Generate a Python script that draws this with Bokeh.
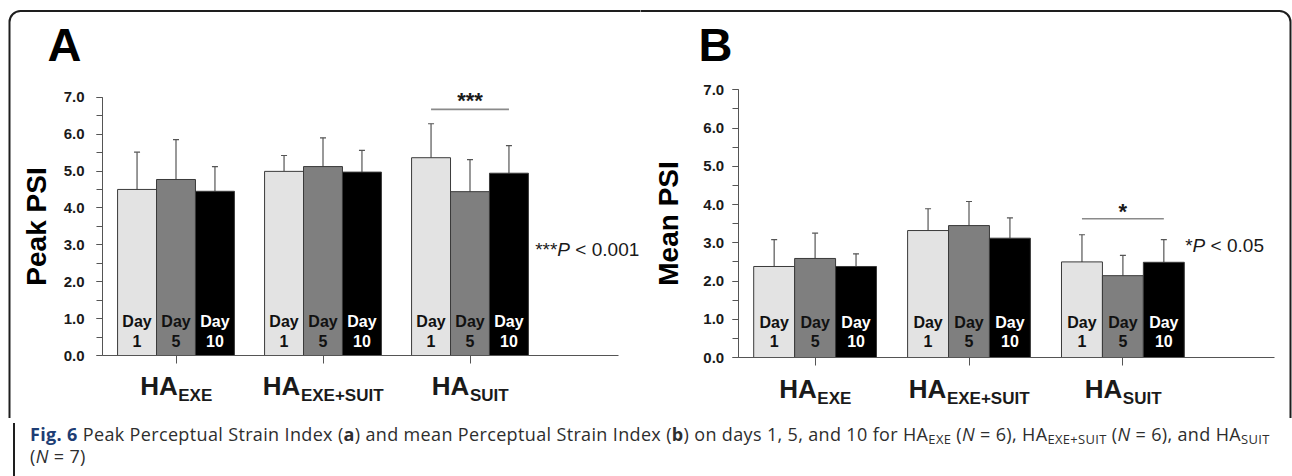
from bokeh.plotting import figure
from bokeh.models import (ColumnDataSource, Whisker, TeeHead, Label, SingleIntervalTicker,
                          FixedTicker, NumeralTickFormatter, Range1d, Div, BoxAnnotation)
from bokeh.layouts import row, column
from bokeh.core.properties import value
from bokeh.embed import file_html
from bokeh.resources import INLINE

# ---------------- data ----------------
groups = ["EXE", "EXE+SUIT", "SUIT"]
day_numbers = ["1", "5", "10"]
bar_colors = ["#e3e3e3", "#7f7f7f", "#000000"]
day_text_colors = ["#111111", "#111111", "#ffffff"]

peak_day1 = [4.50, 4.99, 5.36]
peak_day5 = [4.77, 5.12, 4.44]
peak_day10 = [4.45, 4.97, 4.94]
peak_sd_day1 = [1.01, 0.43, 0.92]
peak_sd_day5 = [1.08, 0.78, 0.87]
peak_sd_day10 = [0.67, 0.59, 0.75]

mean_day1 = [2.38, 3.32, 2.50]
mean_day5 = [2.59, 3.45, 2.14]
mean_day10 = [2.38, 3.12, 2.49]
mean_sd_day1 = [0.70, 0.57, 0.71]
mean_sd_day5 = [0.66, 0.63, 0.53]
mean_sd_day10 = [0.33, 0.53, 0.59]

FONT = "Liberation Sans"
AX = "#555555"
TXT = "#1a1a1a"
SPLIT = 640       # page x where panel B starts
FIG_BOTTOM = 418  # page y where the charts end
PAGE_W = 1292
PAGE_H = 474
FRAME_L, FRAME_R, FRAME_T = 9, 1290, 10.5


def make_panel(means, sds, ylabel, letter, x0, sx, y0, sy, left_px, right_px,
               x_end, bar_w, letter_px, sig_y, star_text, star_px, p_xy, p_star, p_num,
               day_px, num_px, ha_px, sub_px, tick_standoff, label_standoff, border):
    # the frame fills the whole canvas; axes are pinned inside it
    xs_ = (left_px - x0) / sx
    xe_ = (right_px - x0) / sx
    ys_ = (y0 - FIG_BOTTOM) / sy
    ye_ = (y0 - 0) / sy
    p = figure(width=right_px - left_px, height=FIG_BOTTOM, output_backend="svg",
               toolbar_location=None, x_range=Range1d(xs_, xe_), y_range=Range1d(ys_, ye_),
               min_border=0, min_border_left=0, min_border_right=0,
               min_border_top=0, min_border_bottom=0)
    p.outline_line_color = None
    p.grid.visible = False
    p.background_fill_color = "white"
    p.border_fill_color = "white"

    # rounded outer frame (decoration)
    bl, br = border
    p.add_layout(BoxAnnotation(left=(bl - x0) / sx, right=(br - x0) / sx,
                               top=(y0 - FRAME_T) / sy, bottom=ys_ - 5,
                               fill_alpha=0, line_color="#1e1e1e", line_alpha=1.0,
                               line_width=2, border_radius=11))

    offsets = [-bar_w, 0.0, bar_w]
    day_y = day_px / sy
    num_y = num_px / sy
    for i in range(3):
        xs = [g + offsets[i] for g in range(len(groups))]
        ups = [m + s for m, s in zip(means[i], sds[i])]
        src = ColumnDataSource(dict(x=xs, top=means[i], upper=ups,
                                    day=["Day"] * 3, num=[day_numbers[i]] * 3))
        p.add_layout(Whisker(source=src, base="x", upper="upper", lower="top",
                             dimension="height", line_color=AX, line_width=1.2,
                             upper_head=TeeHead(size=6, line_color=AX, line_width=1.2),
                             lower_head=None))
        p.vbar(x="x", top="top", bottom=0, width=bar_w, source=src, fill_color=bar_colors[i],
               line_color="#3a3a3a", line_width=1)
        p.text(x="x", y=day_y, text="day", source=src, text_align="center",
               text_baseline="middle", text_font=value(FONT), text_font_style="bold",
               text_font_size="16px", text_color=day_text_colors[i])
        p.text(x="x", y=num_y, text="num", source=src, text_align="center",
               text_baseline="middle", text_font=value(FONT), text_font_style="bold",
               text_font_size="16px", text_color=day_text_colors[i])

    # significance bracket between day 1 and day 10 of the third group
    p.line(x=[2 + offsets[0], 2 + offsets[2]], y=[sig_y, sig_y], line_color="#8a8a8a", line_width=1.6)
    p.add_layout(Label(x=2, y=(y0 - star_px) / sy, text=star_text, text_align="center",
                       text_baseline="middle", text_font=FONT, text_font_style="bold",
                       text_font_size="22px", text_color=TXT))

    # P-value note
    star_w = 0.389 * 19 * len(p_star)
    py = (y0 - p_xy[1]) / sy
    px = (p_xy[0] - x0) / sx
    p.add_layout(Label(x=px, y=py, text=p_star, text_align="left", text_baseline="middle",
                       text_font=FONT, text_font_size="19px", text_color=TXT))
    p.add_layout(Label(x=px, y=py, x_offset=star_w, text="P", text_align="left",
                       text_baseline="middle", text_font=FONT, text_font_style="italic",
                       text_font_size="19px", text_color=TXT))
    p.add_layout(Label(x=px, y=py, x_offset=star_w + 12.7 + 5.3, text=p_num,
                       text_align="left", text_baseline="middle",
                       text_font=FONT, text_font_size="19px", text_color=TXT))

    # panel letter
    p.add_layout(Label(x=(letter_px[0] - x0) / sx, y=(y0 - letter_px[1]) / sy, text=letter,
                       text_align="left", text_baseline="middle",
                       text_font=FONT, text_font_style="bold", text_font_size="47px",
                       text_color="#000000"))

    # group labels HA + subscript
    sub_w = {"EXE": 34.0, "EXE+SUIT": 82.7, "SUIT": 38.7}
    ha_w = 37.5
    ha_y = -ha_px / sy
    sub_y = -sub_px / sy
    for g, name in enumerate(groups):
        total = ha_w + sub_w[name]
        junction = -total / 2 + ha_w
        p.add_layout(Label(x=g, y=ha_y, x_offset=junction, text="HA", text_align="right",
                           text_baseline="middle",
                           text_font=FONT, text_font_style="bold", text_font_size="26px",
                           text_color=TXT))
        p.add_layout(Label(x=g, y=sub_y, x_offset=junction + 0.5, text=name, text_align="left",
                           text_baseline="middle",
                           text_font=FONT, text_font_style="bold", text_font_size="17px",
                           text_color=TXT))

    # y axis pinned at x = -0.5
    ya = p.yaxis[0]
    ya.fixed_location = -0.5
    ya.bounds = (0, 7)
    ya.ticker = SingleIntervalTicker(interval=1, num_minor_ticks=2)
    ya.formatter = NumeralTickFormatter(format="0.0")
    ya.axis_line_color = AX
    ya.major_tick_line_color = AX
    ya.minor_tick_line_color = AX
    ya.major_tick_in = 0
    ya.major_tick_out = 6
    ya.minor_tick_in = 0
    ya.minor_tick_out = 6
    ya.major_label_text_font = FONT
    ya.major_label_text_font_style = "bold"
    ya.major_label_text_font_size = "15px"
    ya.major_label_text_color = TXT
    ya.major_label_standoff = tick_standoff
    ya.axis_label = ylabel
    ya.axis_label_text_font = FONT
    ya.axis_label_text_font_style = "bold"
    ya.axis_label_text_font_size = "28px"
    ya.axis_label_text_color = "#000000"
    ya.axis_label_standoff = label_standoff

    # x axis pinned at y = 0
    xa = p.xaxis[0]
    xa.fixed_location = 0
    xa.bounds = (-0.5, x_end)
    xa.ticker = FixedTicker(ticks=[0, 1, 2], minor_ticks=[])
    xa.axis_line_color = AX
    xa.major_tick_line_color = AX
    xa.major_tick_in = 0
    xa.major_tick_out = 8
    xa.major_label_text_color = None
    return p


pA = make_panel([peak_day1, peak_day5, peak_day10],
                [peak_sd_day1, peak_sd_day5, peak_sd_day10],
                "Peak PSI", "A", x0=175.5, sx=147.0, y0=355.0, sy=36.9,
                left_px=0, right_px=SPLIT, x_end=3.01, bar_w=0.265, letter_px=(47, 44),
                sig_y=6.67, star_text="***", star_px=99.5, p_xy=(534.7, 249),
                p_star="***", p_num="< 0.001", day_px=33.7, num_px=14.7,
                ha_px=30.0, sub_px=39.5,
                tick_standoff=12, label_standoff=9, border=(FRAME_L, 9000))

pB = make_panel([mean_day1, mean_day5, mean_day10],
                [mean_sd_day1, mean_sd_day5, mean_sd_day10],
                "Mean PSI", "B", x0=814.6, sx=153.9, y0=357.0, sy=38.24,
                left_px=SPLIT, right_px=PAGE_W, x_end=2.985, bar_w=0.266, letter_px=(698, 44),
                sig_y=3.63, star_text="*", star_px=211.0, p_xy=(1184.7, 245),
                p_star="*", p_num="< 0.05", day_px=34.7, num_px=16.3,
                ha_px=31.0, sub_px=41.0,
                tick_standoff=8, label_standoff=17, border=(-9000, FRAME_R))

sub = 'style="font-size:0.72em;vertical-align:-0.2em;line-height:0"'
cap_w = FRAME_R + 1 - (FRAME_L - 1)
caption_html = (
    '<div style="box-sizing:border-box;margin-left:%dpx;width:%dpx;height:%dpx;'
    'border-left:2px solid #1e1e1e;border-right:2px solid #1e1e1e;'
    'font-family:\'Open Sans\';font-size:18px;line-height:22px;letter-spacing:0.35px;'
    'color:#2e2e2e;padding-left:15px;padding-top:0px;white-space:nowrap;overflow:hidden;">'
    '<span style="color:#1d3d74;font-weight:700;">Fig. 6</span> '
    'Peak Perceptual Strain Index (<b>a</b>) and mean Perceptual Strain Index (<b>b</b>) '
    'on days 1, 5, and 10 for HA<sub ' + sub + '>EXE</sub> (<i>N</i> = 6), '
    'HA<sub ' + sub + '>EXE+SUIT</sub> (<i>N</i> = 6), and HA<sub ' + sub + '>SUIT</sub><br>'
    '(<i>N</i> = 7)</div>'
) % (FRAME_L - 1, cap_w, PAGE_H - FIG_BOTTOM)
cap = Div(text=caption_html, width=PAGE_W, height=PAGE_H - FIG_BOTTOM)

layout = column(row(pA, pB), cap,
                styles={"position": "absolute", "left": "0px", "top": "0px"})

open("out.html", "w").write(file_html(layout, INLINE))
